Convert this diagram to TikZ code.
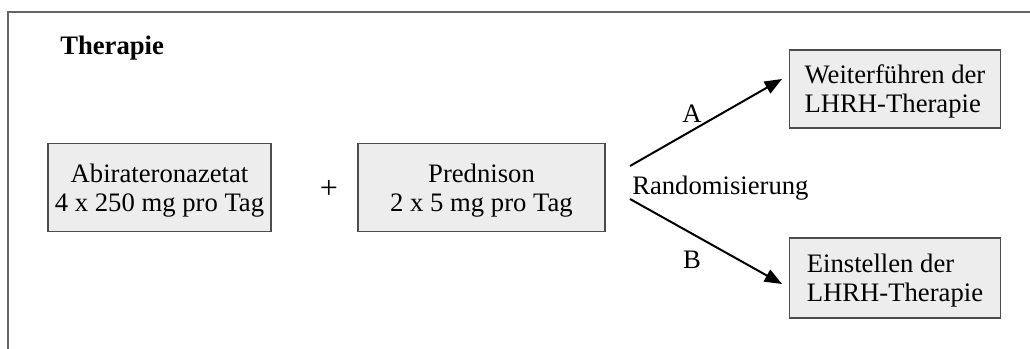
\documentclass[tikz,border=0pt]{standalone}
\usepackage{fontspec}
\setmainfont{Liberation Serif}
\usetikzlibrary{arrows.meta}
\begin{document}
\begin{tikzpicture}[x=0.75pt,y=-0.75pt,
  box/.style={draw=black!70,line width=0.9pt,fill=black!7,inner sep=0pt,text depth=0pt,font=\fontsize{20}{21.75}\selectfont},
  lbl/.style={inner sep=0pt,text depth=0pt,font=\fontsize{20}{21.75}\selectfont},
  arr/.style={line width=1.5pt,-{Triangle[length=13pt,width=10pt]}}]
\useasboundingbox (0,0) rectangle (1030,349);
\draw[black!60,line width=1.2pt] (8,349) -- (8,12) -- (1031,12);
\node[lbl,font=\fontsize{20}{21.75}\selectfont\bfseries,anchor=west] (title) at (60,45.5) {Therapie};
\node[box,minimum width=223*0.75pt,minimum height=88*0.75pt,align=center] (abi) at (159.5,187.5) {Abirateronazetat\\4 x 250 mg pro Tag};
\node[lbl,font=\fontsize{24}{24}\selectfont] (plus) at (329,189) {+};
\node[box,minimum width=247*0.75pt,minimum height=88*0.75pt,align=center] (pred) at (481.5,187.5) {Prednison\\2 x 5 mg pro Tag};
\node[lbl,anchor=west] (rand) at (632,185) {Randomisierung};
\node[box,minimum width=211*0.75pt,minimum height=78*0.75pt,align=left] (wf) at (895,89) {Weiterführen der\\LHRH-Therapie};
\node[box,minimum width=211*0.75pt,minimum height=80*0.75pt,align=left] (es) at (895,278) {Einstellen der\\LHRH-Therapie};
\coordinate (sA) at (630,166);
\coordinate (eA) at (782,79);
\coordinate (sB) at (630,199);
\coordinate (eB) at (782,284);
\draw[arr] (sA) -- (eA);
\draw[arr] (sB) -- (eB);
\node[lbl] (A) at (692,113.5) {A};
\node[lbl] (B) at (692,259.5) {B};
\end{tikzpicture}
\end{document}
